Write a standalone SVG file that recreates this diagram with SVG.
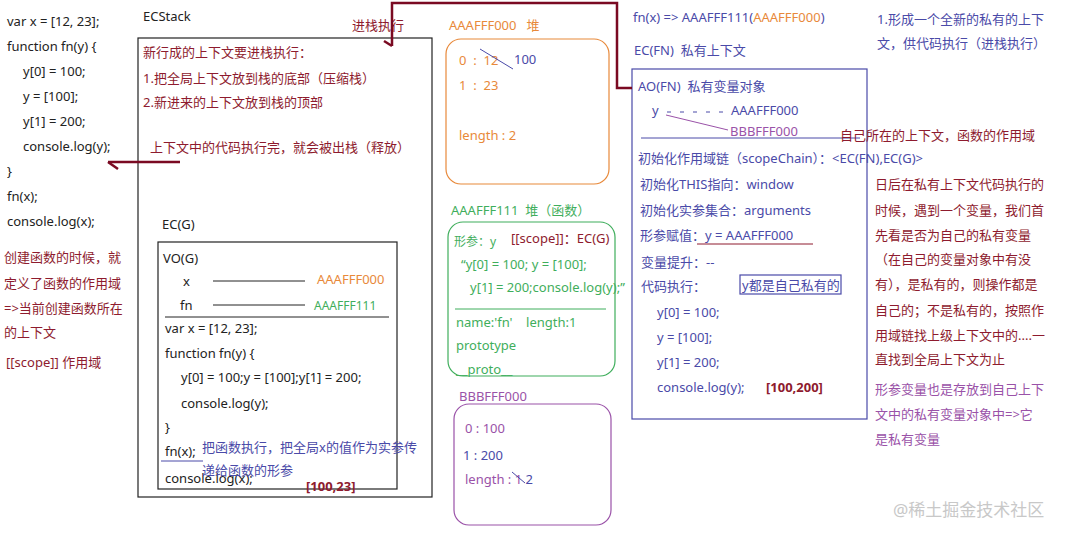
<svg xmlns="http://www.w3.org/2000/svg" width="1070" height="537" viewBox="0 0 1070 537">
<style>
text{font-family:"Noto Sans","Noto Sans CJK SC",sans-serif;font-size:13px;fill:#222;white-space:pre}
.r{fill:#8e1b2e}.b{fill:#4a4aa8}.o{fill:#e8893a}.g{fill:#3fae5c}.p{fill:#9a52a8}
.bold{font-weight:bold}
.box{fill:none;stroke:#222;stroke-width:1.2}
.conn{fill:none;stroke:#7a0a22;stroke-width:2.5}
</style>
<rect width="1070" height="537" fill="#fff"/>
<g id="code">
<text x="7" y="26">var x = [12, 23];</text>
<text x="7" y="51">function fn(y) {</text>
<text x="23" y="76">y[0] = 100;</text>
<text x="23" y="101">y = [100];</text>
<text x="23" y="126">y[1] = 200;</text>
<text x="23" y="151">console.log(y);</text>
<text x="7" y="176">}</text>
<text x="7" y="201">fn(x);</text>
<text x="7" y="226">console.log(x);</text>
</g>
<g id="scope-note">
<text class="r" x="4" y="262">创建函数的时候，就</text>
<text class="r" x="4" y="288">定义了函数的作用域</text>
<text class="r" x="4" y="313">=&gt;当前创建函数所在</text>
<text class="r" x="4" y="337">的上下文</text>
<text class="r" x="6" y="367">[[scope]] 作用域</text>
</g>
<g id="ecstack">
<text x="143" y="21">ECStack</text>
<rect class="box" x="138" y="38" width="294" height="459"/>
<text class="r" x="143" y="57">新行成的上下文要进栈执行：</text>
<text class="r" x="143" y="83">1.把全局上下文放到栈的底部（压缩栈）</text>
<text class="r" x="143" y="107">2.新进来的上下文放到栈的顶部</text>
<text class="r" x="150" y="152">上下文中的代码执行完，就会被出栈（释放）</text>
<text class="r" x="352" y="30">进栈执行</text>
</g>
<g id="ecg">
<text x="162" y="229">EC(G)</text>
<rect class="box" x="158" y="242" width="239" height="247"/>
<text x="163" y="263">VO(G)</text>
<text x="183" y="286">x</text>
<line x1="213" y1="281" x2="305" y2="281" stroke="#222"/>
<text class="o" x="317" y="284">AAAFFF000</text>
<text x="180" y="310">fn</text>
<line x1="213" y1="305" x2="305" y2="305" stroke="#222"/>
<text class="g" x="314" y="310" style="font-size:12px">AAAFFF111</text>
<line x1="165" y1="317" x2="389" y2="317" stroke="#222"/>
<text x="165" y="333">var x = [12, 23];</text>
<text x="165" y="358">function fn(y) {</text>
<text x="181" y="382">y[0] = 100;y = [100];y[1] = 200;</text>
<text x="181" y="408">console.log(y);</text>
<text x="165" y="432">}</text>
<text x="165" y="456">fn(x);</text>
<line x1="161" y1="461" x2="203" y2="461" stroke="#4a4aa8"/>
<text x="165" y="483">console.log(x);</text>
<text class="b" x="202" y="452">把函数执行，把全局x的值作为实参传</text>
<text class="b" x="202" y="475">递给函数的形参</text>
<text class="r bold" x="306" y="491">[100,23]</text>
</g>
<g id="heap-a000">
<text class="o" x="449" y="30">AAAFFF000   堆</text>
<rect x="446" y="39" width="163" height="145" rx="15" fill="none" stroke="#e8893a" stroke-width="1.2"/>
<text class="o" x="459" y="65">0  :  12</text>
<line x1="480" y1="49" x2="513" y2="69" stroke="#4a4aa8"/>
<text class="b" x="514" y="64">100</text>
<text class="o" x="459" y="90">1  :  23</text>
<text class="o" x="459" y="140">length : 2</text>
</g>
<g id="heap-a111">
<text class="g" x="451" y="215">AAAFFF111  堆（函数）</text>
<rect x="448" y="222" width="167" height="154" rx="15" fill="none" stroke="#3fae5c" stroke-width="1.2"/>
<text class="g" x="454" y="246" style="font-size:12px">形参：y</text>
<text class="r" x="511" y="243">[[scope]]：EC(G)</text>
<text class="g" x="461" y="269">“y[0] = 100; y = [100];</text>
<text class="g" x="470" y="292">y[1] = 200;console.log(y);”</text>
<line x1="455" y1="309" x2="606" y2="309" stroke="#3fae5c"/>
<text class="g" x="456" y="327">name:'fn'    length:1</text>
<text class="g" x="456" y="350">prototype</text>
<text class="g" x="456" y="374">__proto__</text>
</g>
<g id="heap-b000">
<text class="p" x="459" y="401">BBBFFF000</text>
<rect x="454" y="404" width="157" height="121" rx="15" fill="none" stroke="#9a52a8" stroke-width="1.2"/>
<text class="p" x="465" y="433">0 : 100</text>
<text class="b" x="463" y="460">1 : 200</text>
<text class="p" x="465" y="484">length : 1 <tspan class="b">2</tspan></text>
<line x1="512" y1="472" x2="525" y2="483" stroke="#4a4aa8"/>
</g>
<g id="ecfn">
<text class="b" x="633" y="22">fn(x) =&gt; AAAFFF111(<tspan class="o">AAAFFF000</tspan>)</text>
<text class="b" x="634" y="55">EC(FN)  私有上下文</text>
<rect x="632" y="69" width="235" height="350" fill="none" stroke="#4a4aa8" stroke-width="1.2"/>
<text class="b" x="638" y="91">AO(FN)  私有变量对象</text>
<text class="b" x="652" y="115">y</text>
<line x1="667" y1="112" x2="729" y2="112" stroke="#4a4aa8" stroke-dasharray="4,9"/>
<text class="b" x="731" y="115">AAAFFF000</text>
<line x1="666" y1="115" x2="728" y2="130" stroke="#9a52a8"/>
<text class="p" x="730" y="136">BBBFFF000</text>
<line x1="641" y1="138" x2="860" y2="138" stroke="#4a4aa8"/>
<text class="b" x="638" y="163">初始化作用域链（scopeChain）：&lt;EC(FN),EC(G)&gt;</text>
<text class="b" x="640" y="189">初始化THIS指向：window</text>
<text class="b" x="640" y="215">初始化实参集合：arguments</text>
<text class="b" x="640" y="240">形参赋值：y = AAAFFF000</text>
<line x1="697" y1="244" x2="813" y2="244" stroke="#8e1b2e"/>
<text class="b" x="641" y="267">变量提升：--</text>
<text class="b" x="641" y="291">代码执行：</text>
<rect x="740" y="275" width="101" height="19" fill="none" stroke="#4a4aa8" stroke-width="1.2"/>
<text class="b" x="742" y="290">y都是自己私有的</text>
<text class="b" x="657" y="317">y[0] = 100;</text>
<text class="b" x="657" y="342">y = [100];</text>
<text class="b" x="657" y="367">y[1] = 200;</text>
<text class="b" x="657" y="392">console.log(y);</text>
<text class="r bold" x="766" y="392">[100,200]</text>
</g>
<g id="notes">
<text class="r" x="840" y="140">自己所在的上下文，函数的作用域</text>
<text class="b" x="877" y="24">1.形成一个全新的私有的上下</text>
<text class="b" x="877" y="48">文，供代码执行（进栈执行）</text>
<text class="r" x="875" y="189">日后在私有上下文代码执行的</text>
<text class="r" x="875" y="215">时候，遇到一个变量，我们首</text>
<text class="r" x="875" y="240">先看是否为自己的私有变量</text>
<text class="r" x="875" y="264">（在自己的变量对象中有没</text>
<text class="r" x="875" y="289">有），是私有的，则操作都是</text>
<text class="r" x="875" y="315">自己的；不是私有的，按照作</text>
<text class="r" x="875" y="340">用域链找上级上下文中的....一</text>
<text class="r" x="875" y="364">直找到全局上下文为止</text>
<text class="p" x="875" y="394">形参变量也是存放到自己上下</text>
<text class="p" x="875" y="419">文中的私有变量对象中=&gt;它</text>
<text class="p" x="875" y="444">是私有变量</text>
</g>
<g id="connectors">
<polyline class="conn" points="632,88 617,88 617,3 392,3 392,46"/>
<line class="conn" x1="384" y1="41" x2="392" y2="46"/>
<polyline class="conn" points="180,162 108,162"/>
<line class="conn" x1="108" y1="162" x2="118" y2="169"/>
</g>
<text x="893" y="516" style="font-size:17px;fill:#c8c8c8">@稀土掘金技术社区</text>
</svg>
